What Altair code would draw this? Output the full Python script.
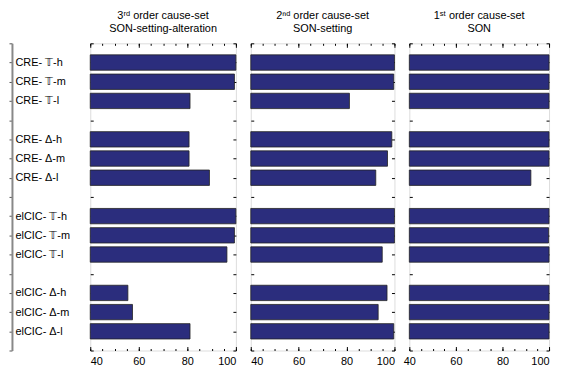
import altair as alt
import pandas as pd

labels = ["CRE- 𝕋-h", "CRE- 𝕋-m", "CRE- 𝕋-l",
          "CRE- Δ-h", "CRE- Δ-m", "CRE- Δ-l",
          "elCIC- 𝕋-h", "elCIC- 𝕋-m", "elCIC- 𝕋-l",
          "elCIC- Δ-h", "elCIC- Δ-m", "elCIC- Δ-l"]
positions = [1, 2, 3, 5, 6, 7, 9, 10, 11, 13, 14, 15]

third_order = [100, 99.4, 81.1, 80.7, 80.7, 89.1, 100, 99.4, 96.3, 55.5, 57.4, 81.1]
second_order = [100, 99.7, 81.2, 98.9, 97.1, 92.2, 100, 100, 94.9, 96.9, 93.2, 99.7]
first_order = [100, 100, 100, 100, 100, 92.2, 100, 99.8, 100, 100, 100, 100]

titles = [["3ʳᵈ  order cause-set", "SON-setting-alteration"],
          ["2ⁿᵈ  order cause-set", "SON-setting"],
          ["1ˢᵗ  order cause-set", "SON"]]
widths = [147, 145, 141]

FONT = "Liberation Sans"
BAR = "#2b2d7d"

label_arr = [""] * 17
for p, l in zip(positions, labels):
    label_arr[p] = l
label_expr = "[" + ",".join("'" + s + "'" for s in label_arr) + "][datum.value]"

xscale = alt.Scale(domain=[40, 100], nice=False, zero=False)
yscale = alt.Scale(domain=[0, 16], reverse=True, nice=False, zero=False)
ytick_vals = list(range(0, 17))
major = [40, 60, 80, 100]
minor = list(range(40, 101, 5))


def inward(orient, vals, size, labels_on=False, flush_last=False):
    kw = dict(orient=orient, values=vals, tickSize=size, offset=-size,
              domain=False, grid=False, title=None, tickColor="black",
              tickWidth=1, zindex=0)
    if labels_on:
        kw.update(labels=True, labelFont=FONT, labelFontSize=11,
                  labelColor="black", labelPadding=5,
                  labelExpr="datum.value % 20 == 0 ? datum.value : ''")
        if flush_last:
            kw.update(labelAlign={"condition": {"test": "datum.value == 100",
                                                "value": "right"},
                                  "value": "center"})
    else:
        kw.update(labels=False)
    return alt.Axis(**kw)


def panel(vals, title, width, first, last):
    df = pd.DataFrame({"label": labels, "pos": positions, "v": vals})
    df["lo"] = df["pos"] - 0.4
    df["hi"] = df["pos"] + 0.4
    base = alt.Chart(df)

    if first:
        yaxis1 = alt.Axis(orient="left", values=ytick_vals, offset=79,
                          tickSize=3, tickColor="#555555", domainColor="#888888",
                          domainWidth=2, labelExpr=label_expr, labelAlign="left",
                          labelPadding=-6, labelFont=FONT, labelFontSize=11,
                          labelColor="black", grid=False, title=None)
    else:
        yaxis1 = inward("left", ytick_vals, 3)

    bars = base.mark_bar(color=BAR, stroke="#222222", strokeWidth=0.8).encode(
        x=alt.X("v:Q", scale=xscale,
                axis=inward("bottom", major, 4, True, flush_last=last)),
        x2=alt.datum(40),
        y=alt.Y("lo:Q", scale=yscale, axis=yaxis1),
        y2="hi:Q",
    )
    l2 = base.mark_point(opacity=0).encode(
        x=alt.X("v:Q", scale=xscale, axis=inward("top", major, 4)),
        y=alt.Y("pos:Q", scale=yscale, axis=inward("right", ytick_vals, 3)),
    )
    l3 = base.mark_point(opacity=0).encode(
        x=alt.X("v:Q", scale=xscale, axis=inward("bottom", minor, 2)),
        y=alt.Y("pos:Q", scale=yscale,
                axis=inward("left", ytick_vals, 3) if first else None),
    )
    l4 = base.mark_point(opacity=0).encode(
        x=alt.X("v:Q", scale=xscale, axis=inward("top", minor, 2)),
        y=alt.Y("pos:Q", scale=yscale, axis=None),
    )
    return alt.layer(bars, l2, l3, l4).resolve_axis(
        x="independent", y="independent"
    ).properties(
        width=width, height=310,
        title=alt.Title(title, font=FONT, fontSize=11, fontWeight="normal",
                        color="black", lineHeight=13, offset=9, anchor="middle"),
    )


chart = alt.hconcat(
    panel(third_order, titles[0], widths[0], True, False),
    panel(second_order, titles[1], widths[1], False, False),
    panel(first_order, titles[2], widths[2], False, True),
    spacing=15,
    bounds="flush",
).properties(padding=0).configure_view(stroke="black", strokeWidth=1).configure(
    background="white"
)

chart.save("out.html", embed_options={"renderer": "svg", "actions": False})
